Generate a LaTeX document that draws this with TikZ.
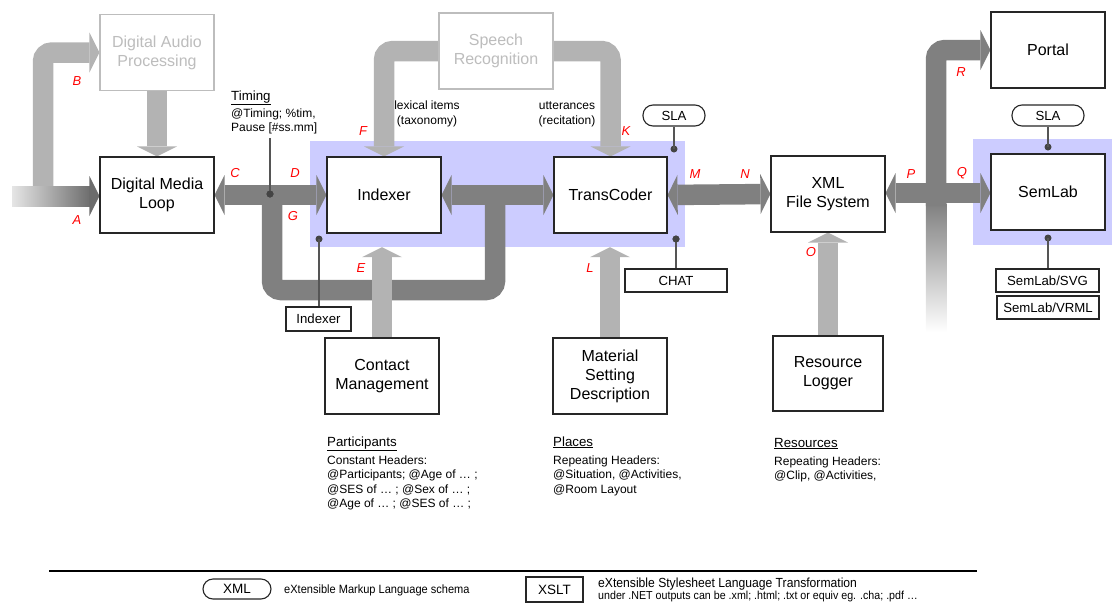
\documentclass[tikz,border=0pt]{standalone}
\usepackage{fontspec}
\setmainfont{Liberation Sans}
\newfontfamily\narrowfont[FakeStretch=0.92]{Liberation Sans}
\usetikzlibrary{arrows.meta,calc}
\definecolor{bandDark}{HTML}{808080}
\definecolor{bandLight}{HTML}{B3B3B3}
\definecolor{aHead}{HTML}{6C6C6C}
\definecolor{blueReg}{HTML}{CCCCFF}
\definecolor{dotc}{HTML}{444444}
\definecolor{leadc}{HTML}{555555}
\definecolor{ghost}{HTML}{BDBDBD}
\definecolor{ltr}{HTML}{FF0000}
\tikzset{
 box/.style={draw=black!85, line width=1.2pt, fill=white, minimum width=114pt, minimum height=76pt,
   align=center, font=\fontsize{16}{19}\selectfont, inner sep=0pt},
 ghostbox/.style={box, draw=ghost, text=ghost},
 tagbox/.style={draw=black!85, line width=1.1pt, fill=white, font=\fontsize{13.2}{15}\selectfont,
   inner sep=0pt, minimum height=23pt},
 pill/.style={tagbox, rounded corners=10pt, minimum height=21pt},
 darkband/.style={draw=bandDark, line width=20.5pt},
 lightband/.style={draw=bandLight, line width=20.5pt},
 tipend/.style={-{Triangle[length=10pt,width=40pt,line width=0pt]}},
 tipboth/.style={{Triangle[length=10pt,width=40pt,line width=0pt]}-{Triangle[length=10pt,width=40pt,line width=0pt]}},
 letter/.style={text=ltr, font=\fontsize{13}{15}\selectfont\itshape, inner sep=0pt},
 small/.style={font=\fontsize{12}{14.6}\selectfont, align=left, inner sep=0pt},
 heading/.style={font=\fontsize{13.3}{15}\selectfont, inner sep=0pt},
 dot/.style={circle, fill=dotc, inner sep=0pt, minimum size=7pt},
 lead/.style={draw=leadc, line width=1.5pt},
 region/.style={fill=blueReg, inner sep=0pt},
 legtext/.style={anchor=base west, inner sep=0pt},
}
\begin{document}
\begin{tikzpicture}[x=1pt,y=-1pt]
\useasboundingbox (0,0) rectangle (1112,603);

% blue regions
\node[region, minimum width=375pt, minimum height=106pt] (blue1) at (497.5,194) {};
\node[region, minimum width=139pt, minimum height=106pt] (blue2) at (1042.5,192) {};

% boxes (placed first so connectors can refer to them)
\node[ghostbox] (dap) at (157,52.5) {Digital Audio\\Processing};
\node[ghostbox] (sr) at (496,51) {Speech\\Recognition};
\node[box] (dml) at (157,195) {Digital Media\\Loop};
\node[box] (idx) at (384,195) {Indexer};
\node[box, minimum width=113pt] (tc) at (610.5,195) {TransCoder};
\node[box] (xml) at (828,194) {XML\\File System};
\node[box] (semlab) at (1048,192) {SemLab};
\node[box] (portal) at (1048,50) {Portal};
\node[box] (cm) at (382,376) {Contact\\Management};
\node[box] (msd) at (610,376) {Material\\Setting\\Description};
\node[box, minimum width=110pt, minimum height=75pt] (rl) at (828,373.5) {Resource\\Logger};

% ---- arrows ----
% B
\coordinate (bStart) at (43,192);
\draw[lightband, tipend, rounded corners=9pt] (bStart) -- (bStart |- dap.west) -- (dap.west);
% A
\coordinate (aMid) at (91,196);
\shade[left color=black!10, right color=aHead] (12,186) rectangle (91,206);
\draw[draw=aHead, line width=20.5pt, tipend] (aMid) -- (dml.west |- aMid);
% DAP -> DML
\draw[lightband, tipend] (dap.south) -- (dml.north);
% G loop
\coordinate (gA) at (272,195);
\coordinate (gB) at (495,195);
\draw[darkband, rounded corners=9pt] (gA) -- (272,290) -- (495,290) -- (gB);
% C / D
\draw[darkband, tipboth] (dml.east) -- (idx.west);
% Indexer <-> TransCoder
\draw[darkband, tipboth] (idx.east) -- (tc.west);
% F and K
\draw[lightband, tipend, rounded corners=9pt] (sr.west) -- (idx.north |- sr.west) -- (idx.north);
\draw[lightband, tipend, rounded corners=9pt] (sr.east) -- (tc.north |- sr.east) -- (tc.north);
% E and L
\draw[lightband, tipend] (cm.north) -- (cm.north |- blue1.south);
\draw[lightband, tipend] (msd.north) -- (msd.north |- blue1.south);
% M / N
\draw[darkband, tipboth] (tc.east) -- (xml.west);
% O
\draw[lightband, tipend] (rl.north) -- (xml.south);
% stem with fade, R
\shade[top color=bandDark, bottom color=white] (925.75,203) rectangle (946.25,332);
\coordinate (stemTop) at (936,206);
\draw[darkband, tipend, rounded corners=9pt] (stemTop) -- (stemTop |- portal.west) -- (portal.west);
% P / Q
\coordinate (pqL) at (885,193);
\draw[darkband, tipboth] (xml.east |- pqL) -- (semlab.west |- pqL);

% redraw boxes on top of arrow ends
\node[ghostbox] at (dap) {Digital Audio\\Processing};
\node[ghostbox] at (sr) {Speech\\Recognition};
\node[box] at (dml) {Digital Media\\Loop};
\node[box] at (idx) {Indexer};
\node[box, minimum width=113pt] at (tc) {TransCoder};
\node[box] at (xml) {XML\\File System};
\node[box] at (semlab) {SemLab};
\node[box] at (portal) {Portal};
\node[box] at (cm) {Contact\\Management};
\node[box] at (msd) {Material\\Setting\\Description};
\node[box, minimum width=110pt, minimum height=75pt] at (rl) {Resource\\Logger};

% ---- tags and dots ----
\coordinate (tTop) at (270,138);
\node[dot] (tdot) at (270,194) {};
\draw[lead] (tTop) -- (tdot.center);
\node[dot] at (tdot) {};

\node[pill, minimum width=62pt] (sla1) at (674,115.5) {SLA};
\node[dot] (d1) at (674,149) {};
\draw[lead] (sla1.south) -- (d1.center);
\node[tagbox, minimum width=102pt] (chat) at (676,280.5) {CHAT};
\node[dot] (d2) at (676,239) {};
\draw[lead] (d2.center) -- (chat.north);
\node[dot] at (d2) {};

\node[tagbox, minimum width=65pt, minimum height=24pt] (idxtag) at (318.5,319) {Indexer};
\node[dot] (d3) at (319,239) {};
\draw[lead] (d3.center) -- (idxtag.north -| d3);

\node[pill, minimum width=72pt] (sla2) at (1048,115.5) {SLA};
\node[dot] (d4) at (1048,147) {};
\draw[lead] (sla2.south) -- (d4.center);
\node[tagbox, minimum width=103pt] (svg) at (1047.5,280.5) {SemLab/SVG};
\node[tagbox, minimum width=102pt] (vrml) at (1048,307.5) {SemLab/VRML};
\node[dot] (d5) at (1048,238) {};
\draw[lead] (d5.center) -- (svg.north -| d5);

% ---- letters ----
\node[letter] at (77,220) {A};
\node[letter] at (77,81) {B};
\node[letter] at (235,173) {C};
\node[letter] at (295,173) {D};
\node[letter] at (293,216) {G};
\node[letter] at (363,131) {F};
\node[letter] at (626,131) {K};
\node[letter] at (361,268) {E};
\node[letter] at (590,268) {L};
\node[letter] at (695,174) {M};
\node[letter] at (745,174) {N};
\node[letter] at (811,252) {O};
\node[letter] at (911,174) {P};
\node[letter] at (962,173) {Q};
\node[letter] at (961,72) {R};

% ---- texts (base anchor = baseline of last line) ----
\node[heading, anchor=base west] (timH) at (231,100) {\underline{Timing}};
\node[small, anchor=base west] (timB) at (231,131.7) {@Timing; \%tim,\\Pause [\#ss.mm]};
\node[small, align=center, anchor=base] (lex) at (427,124) {lexical items\\(taxonomy)};
\node[small, align=center, anchor=base] (utt) at (567,124) {utterances\\(recitation)};

\node[heading, anchor=base west] (partH) at (327,446) {\underline{Participants}};
\node[small, anchor=base west] (partB) at (327,507.8) {Constant Headers:\\@Participants; @Age of … ;\\@SES of … ; @Sex of … ;\\@Age of … ; @SES of … ;};
\node[heading, anchor=base west] (plH) at (553,446) {\underline{Places}};
\node[small, anchor=base west] (plB) at (553,493.2) {Repeating Headers:\\@Situation, @Activities,\\@Room Layout};
\node[heading, anchor=base west] (resH) at (774,447) {\underline{Resources}};
\node[small, anchor=base west] (resB) at (774,479.6) {Repeating Headers:\\@Clip, @Activities,};

% ---- legend ----
\coordinate (legL) at (49,571);
\coordinate (legR) at (977,571);
\draw[black, line width=1.2pt] (legL) -- (legR);
\node[pill, minimum width=68pt, minimum height=20pt, font=\fontsize{13.5}{15}\selectfont] (lxml) at (237,589) {XML};
\node[legtext, font=\narrowfont\fontsize{12}{14}\selectfont] (lxmlT) at (284,593) {eXtensible Markup Language schema};
\node[tagbox, minimum width=57pt, minimum height=25pt, font=\fontsize{13.5}{15}\selectfont] (lxslt) at (554.5,589.5) {XSLT};
\node[legtext, font=\narrowfont\fontsize{13.2}{14}\selectfont] (lxsltT) at (598,587.5) {eXtensible Stylesheet Language Transformation};
\node[legtext, font=\narrowfont\fontsize{11.6}{12}\selectfont] (lxsltU) at (598,599.5) {under .NET outputs can be .xml; .html; .txt or equiv eg. .cha; .pdf …};
\end{tikzpicture}
\end{document}
